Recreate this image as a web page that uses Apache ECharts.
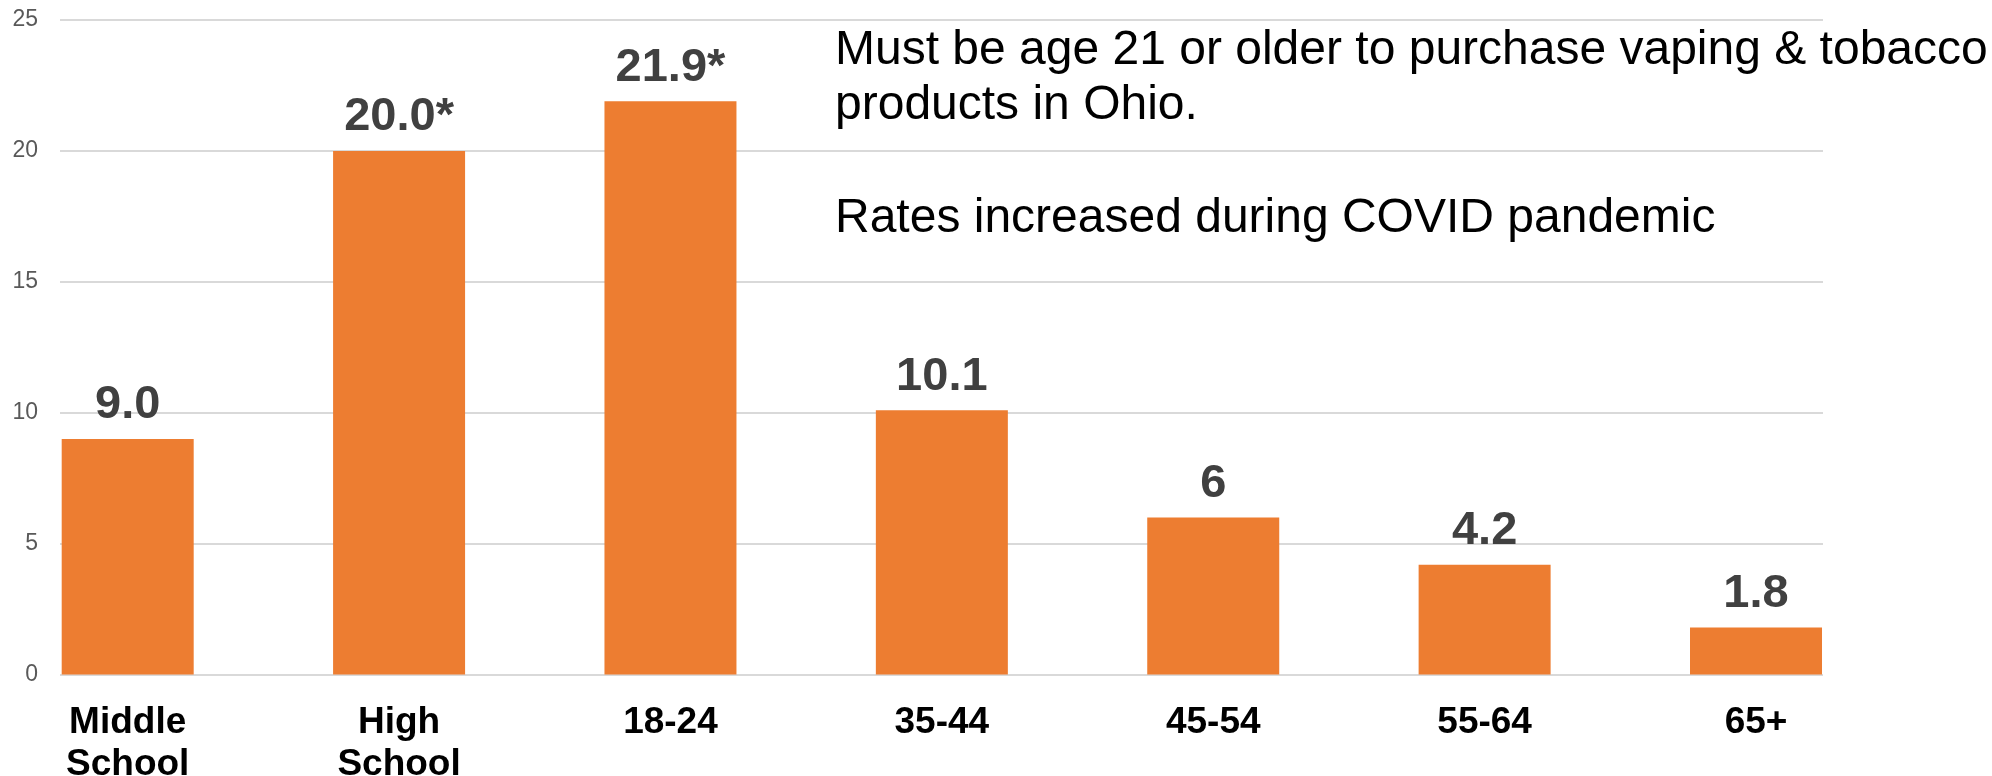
<!DOCTYPE html>
<html>
<head>
<meta charset="utf-8">
<script src="https://cdn.jsdelivr.net/npm/echarts@6/dist/echarts.min.js"></script>
<style>
  html, body { margin: 0; padding: 0; background: #ffffff; }
  #chart { width: 1992px; height: 776px; }
</style>
</head>
<body>
<div id="chart"></div>
<script>
const categories = ['Middle\nSchool', 'High\nSchool', '18-24', '35-44', '45-54', '55-64', '65+'];
const values = [9.0, 20.0, 21.9, 10.1, 6, 4.2, 1.8];
const valueLabels = ['9.0', '20.0*', '21.9*', '10.1', '6', '4.2', '1.8'];
const yTicks = { min: 0, max: 25, interval: 5 };
const noteLine1 = 'Must be age 21 or older to purchase vaping & tobacco';
const noteLine2 = 'products in Ohio.';
const noteLine3 = 'Rates increased during COVID pandemic';

const FONT = '"Liberation Sans", Arial, Helvetica, sans-serif';
const chart = echarts.init(document.getElementById('chart'), null, { renderer: 'canvas' });

const gridTop = 20;
const gridBottom = 101.4;

chart.setOption({
  backgroundColor: '#ffffff',
  animation: false,
  grid: [
    { left: 60, right: 169, top: gridTop, bottom: gridBottom, containLabel: false, outerBoundsMode: 'none' },
    { left: -8, right: 100.3, top: gridTop, bottom: gridBottom, containLabel: false, outerBoundsMode: 'none' }
  ],
  xAxis: [
    { gridIndex: 0, type: 'value', show: false, min: 0, max: 1 },
    {
      gridIndex: 1,
      type: 'category',
      data: categories,
      axisLine: { show: false },
      axisTick: { show: false },
      axisLabel: {
        interval: 0,
        margin: 27,
        color: '#000000',
        fontFamily: FONT,
        fontWeight: 'bold',
        fontSize: 37,
        lineHeight: 42
      }
    }
  ],
  yAxis: [
    {
      gridIndex: 0,
      type: 'value',
      min: yTicks.min,
      max: yTicks.max,
      interval: yTicks.interval,
      axisLine: { show: false },
      axisTick: { show: false },
      axisLabel: { color: '#595959', fontFamily: FONT, fontSize: 23, margin: 22 },
      splitLine: { show: true, lineStyle: { color: '#d9d9d9', width: 2 } }
    },
    {
      gridIndex: 1,
      type: 'value',
      min: yTicks.min,
      max: yTicks.max,
      interval: yTicks.interval,
      show: false,
      splitLine: { show: false }
    }
  ],
  series: [
    {
      type: 'bar',
      xAxisIndex: 1,
      yAxisIndex: 1,
      data: values,
      barWidth: 132,
      itemStyle: { color: '#ED7D31' },
      label: {
        show: true,
        position: 'top',
        distance: 10,
        color: '#404040',
        fontFamily: FONT,
        fontWeight: 'bold',
        fontSize: 47,
        formatter: (p) => valueLabels[p.dataIndex]
      }
    }
  ],
  graphic: [
    { type: 'text', left: 835, top: 27, style: { text: noteLine1, fill: '#000000', font: '48px ' + FONT } },
    { type: 'text', left: 835, top: 82, style: { text: noteLine2, fill: '#000000', font: '48px ' + FONT } },
    { type: 'text', left: 835, top: 195, style: { text: noteLine3, fill: '#000000', font: '48px ' + FONT } }
  ]
});
</script>
</body>
</html>
